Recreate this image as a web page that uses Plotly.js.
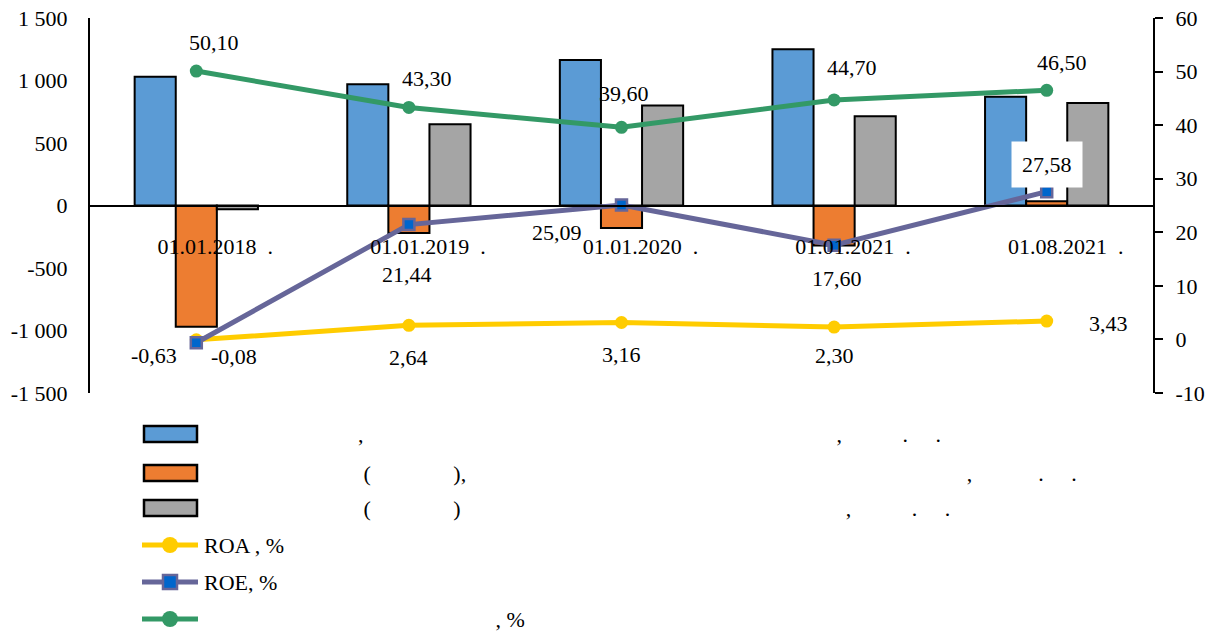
<!DOCTYPE html>
<html>
<head>
<meta charset="utf-8">
<script src="https://cdn.plot.ly/plotly-3.0.1.min.js"></script>
<style>html,body{margin:0;padding:0;background:#fff;}#chart{width:1220px;height:637px;}</style>
</head>
<body>
<div id="chart"></div>
<script>
// ---------- DATA ----------
const categories = ['01.01.2018', '01.01.2019', '01.01.2020', '01.01.2021', '01.08.2021'];
const tickLabels = ['01.01.2018\u00a0\u00a0.', '01.01.2019\u00a0\u00a0.', '01.01.2020\u00a0\u00a0.', '01.01.2021\u00a0\u00a0.', '01.08.2021\u00a0\u00a0.'];
const barBlue   = [1030, 970, 1165, 1250, 870];
const barOrange = [-970, -220, -180, -320, 35];
const barGray   = [-30, 650, 800, 715, 820];
const roa   = [-0.08, 2.64, 3.16, 2.30, 3.43];
const roe   = [-0.63, 21.44, 25.09, 17.60, 27.58];
const green = [50.10, 43.30, 39.60, 44.70, 46.50];
const leftTicks  = [-1500, -1000, -500, 0, 500, 1000, 1500];
const leftTickText = ['-1 500', '-1 000', '-500', '0', '500', '1 000', '1 500'];
const rightTicks = [-10, 0, 10, 20, 30, 40, 50, 60];
const rightTickText = ['-10', '0', '10', '20', '30', '40', '50', '60'];

const sp = n => '\u00a0'.repeat(n);
const legendLabels = [
  sp(28) + ',' + sp(86) + ',' + sp(11) + '.' + sp(5) + '.',
  sp(29) + '(' + sp(15) + '),' + sp(91) + ',' + sp(12) + '.' + sp(5) + '.',
  sp(29) + '(' + sp(15) + ')' + sp(70) + ',' + sp(11) + '.' + sp(5) + '.',
  'ROA , %',
  'ROE, %',
  sp(53) + ', %'
];

// ---------- STYLE ----------
const FONT = 'Liberation Serif, Times New Roman, serif';
const C_BLUE = '#5B9BD5', C_ORANGE = '#ED7D31', C_GRAY = '#A5A5A5';
const C_YELLOW = '#FFCC00', C_ROE = '#666699', C_ROE_FILL = '#0066CC', C_GREEN = '#339966';

const fmt = v => v.toFixed(2).replace('.', ',');

// plot area in pixels
const PL = 90, PR = 1153, PT = 18, PB = 393;
const fx = px => (px - PL) / (PR - PL);
const fy = py => (PB - py) / (PB - PT);

const barLine = {color: '#000', width: 2};
const traces = [
  {type: 'bar', x: categories, y: barBlue, marker: {color: C_BLUE, line: barLine}, showlegend: false, name: 'b1'},
  {type: 'bar', x: categories, y: barOrange, marker: {color: C_ORANGE, line: barLine}, showlegend: false, name: 'b2'},
  {type: 'bar', x: categories, y: barGray, marker: {color: C_GRAY, line: barLine}, showlegend: false, name: 'b3'},
  {type: 'scatter', mode: 'lines+markers', x: categories, y: roa, yaxis: 'y2', name: 'ROA, %',
   line: {color: C_YELLOW, width: 5}, marker: {color: C_YELLOW, size: 13, symbol: 'circle'}, showlegend: false},
  {type: 'scatter', mode: 'lines+markers', x: categories, y: green, yaxis: 'y2', name: 'g',
   line: {color: C_GREEN, width: 5}, marker: {color: C_GREEN, size: 13, symbol: 'circle'}, showlegend: false},
  {type: 'scatter', mode: 'lines+markers', x: categories, y: roe, yaxis: 'y2', name: 'ROE, %',
   line: {color: C_ROE, width: 5}, marker: {color: C_ROE_FILL, size: 11, symbol: 'square', line: {color: C_ROE, width: 2.5}}, showlegend: false}
];

// label offsets (pixels: dx right, dy down)
const greenOff = [[18,-29],[18,-29],[2,-34],[18,-32],[15,-28]];
const roaOff   = [[38,17],[0,32],[0,32],[0,28],[62,2]];
const roeOff   = [[-42,13],[-2,50],[-65,27],[3,33],[0,-27]];

const annotations = [];
function addLabels(vals, offs, bg) {
  vals.forEach((v, i) => {
    annotations.push({
      xref: 'x', yref: 'y2', x: categories[i], y: v, text: fmt(v), showarrow: false,
      xshift: offs[i][0], yshift: -offs[i][1], xanchor: 'center', yanchor: 'middle',
      font: {family: FONT, size: 22, color: '#000'},
      bgcolor: bg && bg(i) ? '#fff' : 'rgba(0,0,0,0)', borderpad: bg && bg(i) ? 10 : 0
    });
  });
}
addLabels(green, greenOff);
addLabels(roa, roaOff);
addLabels(roe, roeOff, i => i === 4);

// ---------- manual legend ----------
const shapes = [];
const rowY = [434, 473, 508, 545, 582, 619];
const barColors = [C_BLUE, C_ORANGE, C_GRAY];
for (let i = 0; i < 3; i++) {
  shapes.push({type: 'rect', xref: 'paper', yref: 'paper', x0: fx(144), x1: fx(197), y0: fy(rowY[i] - 8), y1: fy(rowY[i] + 8),
    fillcolor: barColors[i], line: {color: '#000', width: 2.5}});
}
const lineColors = [C_YELLOW, C_ROE, C_GREEN];
for (let i = 0; i < 3; i++) {
  const y = rowY[i + 3];
  shapes.push({type: 'line', xref: 'paper', yref: 'paper', x0: fx(142), x1: fx(198), y0: fy(y), y1: fy(y),
    line: {color: lineColors[i], width: 5}});
  if (i === 1) {
    shapes.push({type: 'rect', xref: 'paper', yref: 'paper', x0: fx(163), x1: fx(177), y0: fy(y - 7), y1: fy(y + 7),
      fillcolor: C_ROE_FILL, line: {color: C_ROE, width: 2.5}});
  } else {
    shapes.push({type: 'circle', xref: 'paper', yref: 'paper', x0: fx(162), x1: fx(178), y0: fy(y - 8), y1: fy(y + 8),
      fillcolor: lineColors[i], line: {color: lineColors[i], width: 0}});
  }
}
legendLabels.forEach((t, i) => {
  annotations.push({xref: 'paper', yref: 'paper', x: fx(202), y: fy(rowY[i]), text: t, showarrow: false,
    xanchor: 'left', yanchor: 'middle', font: {family: FONT, size: 22, color: '#000'}});
});

const layout = {
  width: 1220, height: 637,
  margin: {l: PL, r: 1220 - PR, t: PT, b: 637 - PB, pad: 0},
  paper_bgcolor: '#fff', plot_bgcolor: '#fff',
  separators: ', ',
  font: {family: FONT, size: 22, color: '#000'},
  showlegend: false,
  barmode: 'group', bargap: 0.42, bargroupgap: 0,
  xaxis: {
    type: 'category', anchor: 'free', position: 0.5,
    showline: true, linecolor: '#000', linewidth: 2, ticks: '', showgrid: false, zeroline: false,
    tickvals: categories, ticktext: tickLabels, ticklabelstandoff: 21, ticklabelshift: 19,
    tickfont: {family: FONT, size: 22, color: '#000'}
  },
  yaxis: {
    range: [-1500, 1500], tickvals: leftTicks, ticktext: leftTickText,
    showline: true, linecolor: '#000', linewidth: 2, ticks: '', showgrid: false, zeroline: false,
    ticklabelstandoff: 16, tickfont: {family: FONT, size: 22, color: '#000'}
  },
  yaxis2: {
    overlaying: 'y', side: 'right', range: [-10, 60], tickvals: rightTicks, ticktext: rightTickText,
    showline: true, linecolor: '#000', linewidth: 2, ticks: 'outside', ticklen: 8, tickwidth: 2, tickcolor: '#000',
    showgrid: false, zeroline: false, ticklabelstandoff: 8,
    tickfont: {family: FONT, size: 22, color: '#000'}
  },
  shapes: shapes,
  annotations: annotations
};

Plotly.newPlot('chart', traces, layout, {displayModeBar: false, staticPlot: true});
</script>
</body>
</html>
